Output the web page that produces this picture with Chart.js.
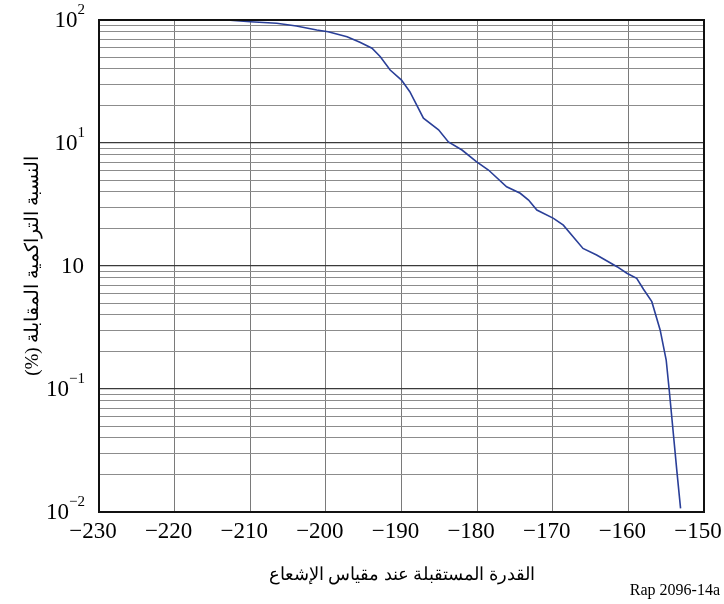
<!DOCTYPE html>
<html>
<head>
<meta charset="utf-8">
<script src="https://cdn.jsdelivr.net/npm/chart.js@4.4.0/dist/chart.umd.min.js"></script>
<style>
  html, body { margin: 0; padding: 0; background: #fff; }
  #wrap { width: 724px; height: 604px; }
</style>
</head>
<body>
<div id="wrap"><canvas id="cdfChart"></canvas></div>
<script>
// received power at radiometer (dBW) vs cumulative percentage
const powerDbw = [-213.1, -210.0, -206.5, -203.9, -201.2, -199.7, -197.2, -195.5, -193.9, -192.8,
    -191.5, -190.0, -188.9, -187.1, -185.1, -183.8, -182.0, -180.1, -178.5, -176.1,
    -174.3, -173.2, -172.1, -169.9, -168.6, -166.0, -164.2, -161.5, -160.2, -158.9,
    -158.0, -156.9, -155.8, -155.0, -154.6, -154.1, -153.6, -153.1];
const cumulativePct = [100, 96.9, 94.0, 89.4, 82.9, 80.3, 73.1, 65.9, 58.9, 50.3,
    39.2, 32.5, 26.1, 15.9, 12.8, 10.2, 8.77, 7.05, 6.03, 4.41,
    3.90, 3.44, 2.85, 2.44, 2.15, 1.39, 1.23, 0.987, 0.873, 0.794,
    0.647, 0.513, 0.302, 0.172, 0.0982, 0.0464, 0.0219, 0.0107];

const xTicks = [-230, -220, -210, -200, -190, -180, -170, -160, -150];
const yDecades = [100, 10, 1, 0.1, 0.01];
const yDecadeExp = ['2', '1', '', '\u22121', '\u22122'];

const xTitle = 'القدرة المستقبلة عند مقياس الإشعاع';
const yTitle = 'النسبة التراكمية المقابلة (%)';
const figureRef = 'Rap 2096-14a';

const serif = '"Liberation Serif", "DejaVu Serif", serif';

// wrap arabic text in a right-to-left embedding so the canvas lays it out RTL
const rtl = s => '\u202B' + s + '\u202C';

function isDecade(v) {
    const l = Math.log10(v);
    return Math.abs(l - Math.round(l)) < 1e-6;
}

// y labels drawn as 10 with a raised exponent
const decadeLabels = {
    id: 'decadeLabels',
    afterDraw(chart) {
        const ctx = chart.ctx;
        const yScale = chart.scales.y;
        ctx.save();
        ctx.fillStyle = '#000';
        ctx.textBaseline = 'middle';
        ctx.textAlign = 'right';
        yDecades.forEach((v, i) => {
            const py = yScale.getPixelForValue(v);
            const exp = yDecadeExp[i];
            let right = 85;
            if (exp) {
                ctx.font = '15px ' + serif;
                ctx.fillText(exp, right, py - 10);
                right -= ctx.measureText(exp).width;
            } else {
                right = 84;
            }
            ctx.font = '23px ' + serif;
            ctx.fillText('10', right, py + 1);
        });
        ctx.restore();
    }
};

const frameAndRef = {
    id: 'frameAndRef',
    afterDraw(chart) {
        const {ctx, chartArea} = chart;
        ctx.save();
        ctx.strokeStyle = '#111';
        ctx.lineWidth = 2;
        ctx.strokeRect(chartArea.left, chartArea.top, chartArea.right - chartArea.left, chartArea.bottom - chartArea.top);
        ctx.fillStyle = '#000';
        ctx.font = '16px ' + serif;
        ctx.textAlign = 'right';
        ctx.textBaseline = 'middle';
        ctx.fillText(figureRef, 720, 591);
        ctx.restore();
    }
};

const ctx = document.getElementById('cdfChart').getContext('2d');
new Chart(ctx, {
    type: 'line',
    data: {
        datasets: [{
            data: powerDbw.map((p, i) => ({x: p, y: cumulativePct[i]})),
            borderColor: '#2a3f98',
            borderWidth: 1.6,
            pointRadius: 0,
            tension: 0,
            fill: false
        }]
    },
    options: {
        responsive: true,
        maintainAspectRatio: false,
        animation: false,
        layout: {
            padding: {left: 0, right: 20, top: 20, bottom: 0}
        },
        plugins: {
            legend: {display: false},
            tooltip: {enabled: false}
        },
        scales: {
            x: {
                type: 'linear',
                min: -230,
                max: -150,
                afterBuildTicks(scale) {
                    scale.ticks = xTicks.map(v => ({value: v}));
                },
                afterFit(scale) {
                    scale.height = 92;
                    scale.paddingLeft = 0;
                    scale.paddingRight = 0;
                },
                grid: {
                    color: '#7a7a7a',
                    lineWidth: 1,
                    drawTicks: false
                },
                border: {display: false},
                ticks: {
                    padding: 6,
                    labelOffset: -6,
                    color: '#000',
                    font: {family: serif, size: 23},
                    maxRotation: 0,
                    callback: v => String(v).replace('-', '\u2212')
                },
                title: {
                    display: true,
                    text: rtl(xTitle),
                    color: '#000',
                    font: {family: serif, size: 18},
                    padding: {top: 0, bottom: 18}
                }
            },
            y: {
                type: 'logarithmic',
                min: 0.01,
                max: 100,
                afterBuildTicks(scale) {
                    const ticks = [];
                    for (let e = -2; e <= 1; e++) {
                        for (let k = 1; k <= 9; k++) {
                            ticks.push({value: Number((k * Math.pow(10, e)).toPrecision(6))});
                        }
                    }
                    ticks.push({value: 100});
                    scale.ticks = ticks;
                },
                afterFit(scale) {
                    scale.width = 99;
                    scale.paddingTop = 0;
                    scale.paddingBottom = 0;
                },
                grid: {
                    color: c => (c.tick && isDecade(c.tick.value)) ? '#3a3a3a' : '#8c8c8c',
                    lineWidth: c => (c.tick && isDecade(c.tick.value)) ? 1.3 : 1,
                    drawTicks: false
                },
                border: {display: false},
                ticks: {display: false},
                title: {
                    display: true,
                    text: rtl(yTitle),
                    color: '#000',
                    font: {family: serif, size: 19},
                    padding: {top: 22, bottom: 0}
                }
            }
        }
    },
    plugins: [decadeLabels, frameAndRef]
});
</script>
</body>
</html>
